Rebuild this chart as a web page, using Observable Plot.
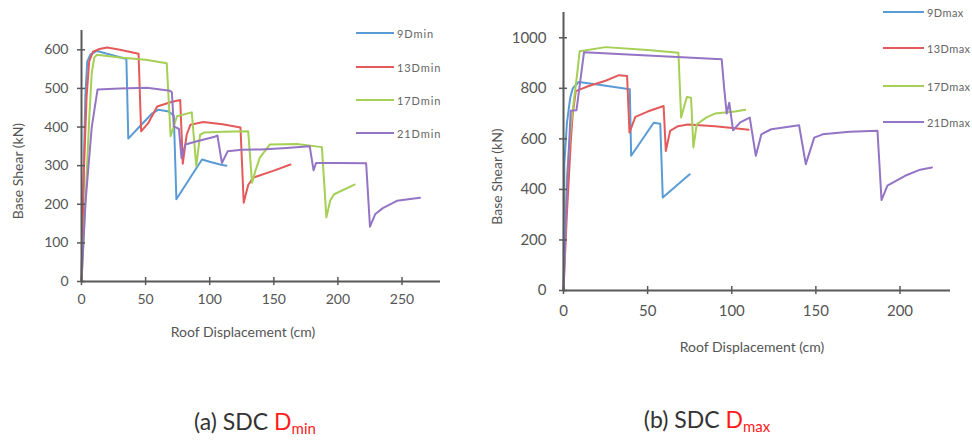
<!DOCTYPE html>
<html>
<head>
<meta charset="utf-8">
<script src="https://cdn.jsdelivr.net/npm/d3@7"></script>
<script src="https://cdn.jsdelivr.net/npm/@observablehq/plot@0.6"></script>
<style>
  body { margin:0; background:#fff; width:972px; height:441px; overflow:hidden; position:relative; font-family: Lato, "Open Sans", sans-serif; }
  .panel { position:absolute; top:0; }
  .legend { position:absolute; color:#666; white-space:nowrap; }
  .legend .item { position:absolute; display:flex; align-items:center; }
  .legend .sw { display:inline-block; height:2px; margin-right:3px; }
  .cap { position:absolute; font-size:23px; color:#333; white-space:nowrap; transform:translateX(-50%); }
  .cap span { color:#ff1a1a; }
  .cap sub { font-size:15px; vertical-align:-4px; }
</style>
</head>
<body>
<div id="left" class="panel" style="left:0"></div>
<div id="right" class="panel" style="left:480px"></div>
<div id="legL" class="legend" style="font-size:11px; letter-spacing:0.9px;"></div>
<div id="legR" class="legend" style="font-size:11px; letter-spacing:0.4px;"></div>
<div class="cap" style="left:255px; top:407px;">(a) SDC <span>D<sub>min</sub></span></div>
<div class="cap" style="left:707px; top:405px;">(b) SDC <span>D<sub>max</sub></span></div>
<script>
// ---- data: [roof displacement (cm), base shear (kN)] ----
const namesMin = ["9Dmin", "13Dmin", "17Dmin", "21Dmin"];
const namesMax = ["9Dmax", "13Dmax", "17Dmax", "21Dmax"];
const colors = ["#5b9bd5", "#e45a5a", "#a5cf55", "#9474c4"];

const d9min = [[0,0],[1.5,250],[3,480],[4.5,570],[7,588],[12,597],[20,590],[35,576],[36.5,370],[45,400],[55,435],[60,445],[68,440],[72,430],[74,213],[85,270],[94,316],[100,310],[108,303],[113,300]];
const d13min = [[0,0],[2,300],[4,480],[6,570],[9,595],[14,602],[20,606],[30,600],[44.5,590],[46.5,389],[52,410],[59,453],[70,465],[77,470],[79,305],[82,380],[85,406],[95,413],[110,407],[124,399],[126.5,204],[130,250],[134,269],[150,287],[163,303]];
const d17min = [[0,0],[3,200],[6,420],[8,540],[10,580],[12,587],[30,580],[50,574],[66.5,565],[69.5,376],[74.5,428],[86,438],[89.5,299],[92.5,380],[96,386],[110,388],[130,389],[133,256],[136,290],[139,320],[147,355],[168,356],[187.5,348],[191,166],[194,210],[197,226],[213,251]];
const d21min = [[0,0],[3,200],[8,400],[12.5,497],[30,500],[51,502],[69,494],[70.5,490],[72,402],[76,395],[78,320],[81,355],[90,363],[104,375],[106,378],[109.5,307],[114,337],[125,341],[140,342],[160,346],[178,350],[181,288],[183,307],[200,307],[222,306],[225,142],[229,174],[235,190],[246,209],[264,217]];

const d9max = [[0,0],[0.5,500],[2,660],[4,763],[5.5,800],[9,825],[20,815],[39.4,796],[40.2,533],[53.6,664],[57.5,660],[59,368],[75,460]];
const d13max = [[0,0],[2,300],[4.3,585],[5.5,700],[7.3,789],[15,809],[25,830],[33,852],[37.8,849],[39.2,625],[42.7,687],[50,708],[59.5,730],[60.8,552],[63.4,632],[68,650],[74,657],[90,650],[102,642],[110,636]];
const d17max = [[0,0],[2,450],[4.3,645],[6.3,757],[8.3,868],[9.6,947],[25,963],[50,952],[68.3,941],[69.9,685],[73.3,766],[75.8,763],[77.2,566],[79.2,658],[85,685],[90,700],[102,708],[108,715]];
const d21max = [[0,0],[2,400],[4.3,711],[7.7,713],[12.2,943],[50,930],[94,915],[95.5,800],[97,700],[98.5,743],[100.8,634],[105,665],[110.7,684],[114.3,533],[117.6,618],[123.5,638],[140,654],[144,500],[149,605],[154,618],[170,628],[186.6,632],[189,358],[192.5,415],[203,454],[212,478],[219,487]];

const xTicksMin = [0, 50, 100, 150, 200, 250];
const yTicksMin = [0, 100, 200, 300, 400, 500, 600];
const xTicksMax = [0, 50, 100, 150, 200];
const yTicksMax = [0, 200, 400, 600, 800, 1000];

const xLabel = "Roof Displacement (cm)";
const yLabel = "Base Shear (kN)";

function rows(series, names) {
  return series.flatMap((s, i) => s.map(([x, y]) => ({x, y, s: names[i]})));
}

const axisColor = "#595959";
const fmt = d3.format("d");

function panel(cfg) {
  return Plot.plot({
    width: cfg.width, height: cfg.height,
    marginLeft: cfg.ml, marginRight: cfg.mr, marginTop: cfg.mt, marginBottom: cfg.mb,
    x: {domain: cfg.xd, ticks: cfg.xt},
    y: {domain: cfg.yd, ticks: cfg.yt},
    color: {domain: cfg.names, range: colors},
    style: {fontFamily: "Lato, 'Open Sans', sans-serif", fontSize: cfg.fs + "px", color: "#555", background: "transparent"},
    marks: [
      Plot.line(rows(cfg.series, cfg.names), {x: "x", y: "y", z: "s", stroke: "s", strokeWidth: 2, strokeLinejoin: "round"}),
      Plot.ruleX([0], {stroke: axisColor, strokeWidth: 2}),
      Plot.ruleY([0], {stroke: axisColor, strokeWidth: 2}),
      Plot.axisY({ticks: cfg.yt, tickFormat: fmt, tickSize: 8, dx: 4, tickPadding: cfg.ypad, label: null, stroke: axisColor, strokeWidth: 1.5, fill: "#555"}),
      Plot.axisX({ticks: cfg.xt, tickFormat: fmt, tickSize: 8, dy: -4, tickPadding: cfg.xpad, label: null, stroke: axisColor, strokeWidth: 1.5, fill: "#555"}),
      Plot.text([yLabel], {frameAnchor: "left", textAnchor: "middle", lineAnchor: "middle", rotate: -90, dx: cfg.ylx, dy: cfg.yly, fontSize: 14, fill: "#555"}),
      Plot.text([xLabel], {frameAnchor: "bottom", textAnchor: "middle", lineAnchor: "middle", dx: cfg.xlx, dy: cfg.xly, fontSize: 14, fill: "#555"})
    ]
  });
}

document.getElementById("left").append(panel({
  width: 480, height: 345, ml: 81, mr: 40, mt: 30, mb: 64,
  xd: [0, 280], yd: [0, 650], xt: xTicksMin, yt: yTicksMin,
  names: namesMin, series: [d9min, d13min, d17min, d21min],
  fs: 14, ypad: 9, xpad: 9, ylx: -63, yly: 15, xlx: -18, xly: 51
}));

document.getElementById("right").append(panel({
  width: 492, height: 360, ml: 83, mr: 22, mt: 12, mb: 70,
  xd: [0, 230], yd: [0, 1100], xt: xTicksMax, yt: yTicksMax,
  names: namesMax, series: [d9max, d13max, d17max, d21max],
  fs: 15, ypad: 13, xpad: 11, ylx: -66, yly: 25, xlx: -5, xly: 57
}));

function legend(id, names, x, ys, len) {
  const el = document.getElementById(id);
  el.style.left = x + "px";
  el.style.top = "0px";
  names.forEach((n, i) => {
    const it = document.createElement("div");
    it.className = "item";
    it.style.top = (ys[i] - 8) + "px";
    it.style.height = "16px";
    it.innerHTML = `<span class="sw" style="width:${len}px;background:${colors[i]}"></span><span>${n}</span>`;
    el.append(it);
  });
}
legend("legL", namesMin, 356, [33, 67, 100, 133], 38);
legend("legR", namesMax, 883, [12, 48, 86, 122], 41);
</script>
</body>
</html>
